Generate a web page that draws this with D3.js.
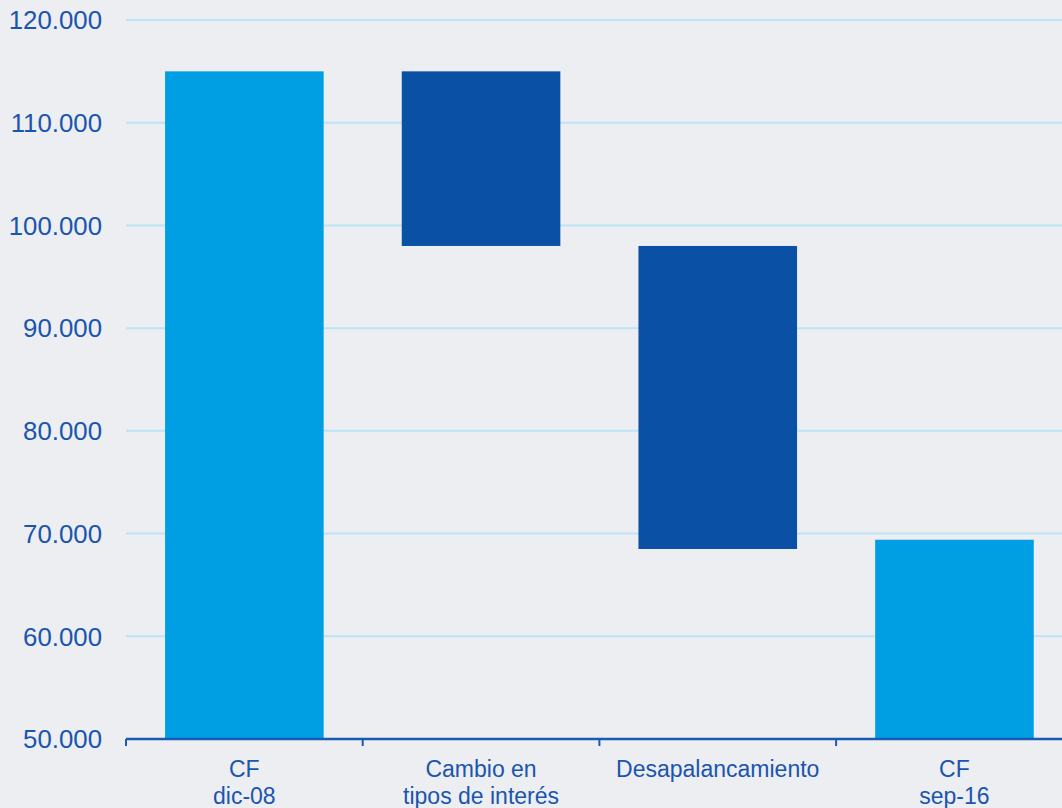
<!DOCTYPE html>
<html><head><meta charset="utf-8">
<script src="https://cdn.jsdelivr.net/npm/d3@7/dist/d3.min.js"></script>
<style>
html,body{margin:0;padding:0;background:#ECEEF1;}
svg{display:block;}
</style></head>
<body>
<svg id="chart" width="1062" height="808"></svg>
<script>
const categories = [["CF","dic-08"],["Cambio en","tipos de interés"],["Desapalancamiento"],["CF","sep-16"]];
const barStart = [50000, 115000, 98000, 50000];
const barEnd   = [115000, 98000, 68500, 69400];
const barType  = ["total","delta","delta","total"];
const yTicks = [50000,60000,70000,80000,90000,100000,110000,120000];
const yTickLabels = ["50.000","60.000","70.000","80.000","90.000","100.000","110.000","120.000"];

const W = 1062, H = 808;
const svg = d3.select("#chart");
const x = d3.scaleBand().domain(d3.range(categories.length)).range([126, 1072.8]).paddingInner(0.33).paddingOuter(0.165);
const y = d3.scaleLinear().domain([50000,120000]).range([739,20]);
const textColor = "#1A55AE";
const axisColor = "#1B5AB4";

// gridlines
svg.append("g").selectAll("line").data(yTicks.slice(1)).join("line")
  .attr("x1",126).attr("x2",W).attr("y1",d=>y(d)).attr("y2",d=>y(d))
  .attr("stroke","#BDE4F6").attr("stroke-width",2);

// tick labels
svg.append("g").selectAll("text").data(yTicks).join("text")
  .attr("x",102).attr("y",d=>y(d)).attr("dy","0.36em")
  .attr("text-anchor","end").attr("fill",textColor)
  .style("font-family","'Liberation Sans', Arial, sans-serif").style("font-size","25.8px")
  .text((d,i)=>yTickLabels[i]);

// bars
svg.append("g").selectAll("rect").data(d3.range(categories.length)).join("rect")
  .attr("x",i=>x(i)).attr("width",x.bandwidth())
  .attr("y",i=>y(Math.max(barStart[i],barEnd[i])))
  .attr("height",i=>Math.abs(y(barStart[i])-y(barEnd[i])))
  .attr("fill",i=>barType[i]==="total"?"#009FE3":"#0A50A5");

// x axis
const xAxis = svg.append("g");
xAxis.append("line").attr("x1",126).attr("x2",W).attr("y1",739).attr("y2",739)
  .attr("stroke",axisColor).attr("stroke-width",2.5);
const step = x.step();
const tickXs = d3.range(categories.length+1).map(i=>126 + i*step);
xAxis.selectAll("line.tk").data(tickXs).join("line").attr("class","tk")
  .attr("x1",d=>d).attr("x2",d=>d).attr("y1",739).attr("y2",746)
  .attr("stroke",axisColor).attr("stroke-width",2);

// category labels
const lab = svg.append("g").selectAll("text").data(categories).join("text")
  .attr("x",(d,i)=>x(i)+x.bandwidth()/2).attr("y",777)
  .attr("text-anchor","middle").attr("fill",textColor)
  .style("font-family","'Liberation Sans', Arial, sans-serif").style("font-size","23px");
lab.selectAll("tspan").data(d=>d).join("tspan")
  .attr("x",function(){return this.parentNode.getAttribute("x");})
  .attr("dy",(d,i)=>i===0?0:27).text(d=>d);
</script>
</body></html>
